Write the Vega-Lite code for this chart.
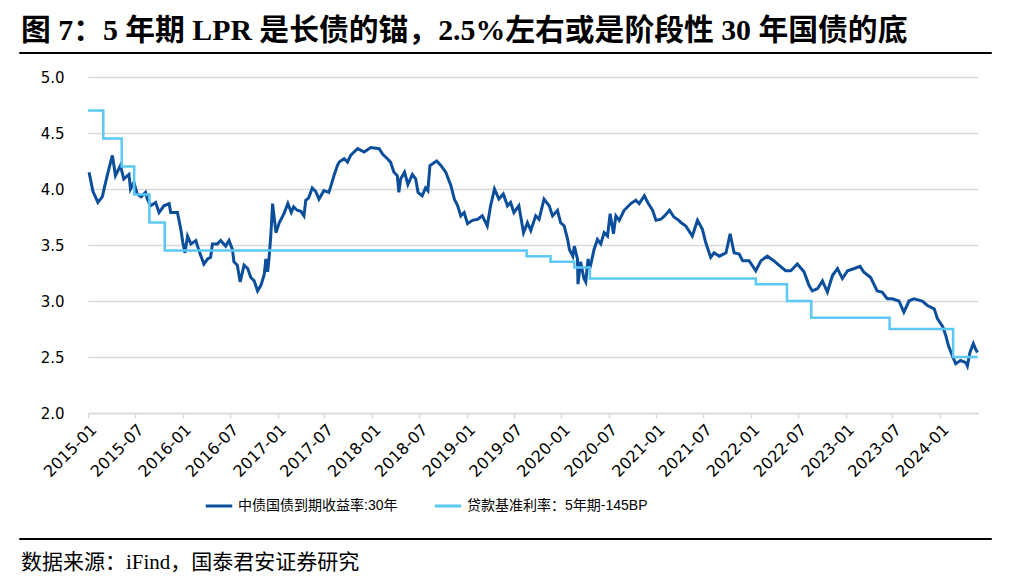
{
  "$schema": "https://vega.github.io/schema/vega-lite/v6.json",
  "background": "white",
  "padding": {"left": 18, "right": 16, "top": 15, "bottom": 4},
  "config": {
    "view": {"stroke": null},
    "font": "Liberation Sans, Noto Sans CJK SC"
  },
  "datasets": {
    "yield": [
      {"d": "2015-01-05", "v": 4.15}, {"d": "2015-01-20", "v": 3.98}, {"d": "2015-02-08", "v": 3.88}, {"d": "2015-02-25", "v": 3.93},
      {"d": "2015-03-16", "v": 4.12}, {"d": "2015-04-05", "v": 4.30}, {"d": "2015-04-17", "v": 4.12}, {"d": "2015-05-06", "v": 4.21},
      {"d": "2015-05-19", "v": 4.09}, {"d": "2015-06-08", "v": 4.13}, {"d": "2015-06-14", "v": 4.00}, {"d": "2015-06-27", "v": 4.06},
      {"d": "2015-07-10", "v": 3.955}, {"d": "2015-07-25", "v": 3.93}, {"d": "2015-08-11", "v": 3.97}, {"d": "2015-08-18", "v": 3.91},
      {"d": "2015-08-30", "v": 3.85}, {"d": "2015-09-19", "v": 3.88}, {"d": "2015-10-02", "v": 3.79}, {"d": "2015-10-21", "v": 3.85},
      {"d": "2015-11-10", "v": 3.87}, {"d": "2015-11-16", "v": 3.79}, {"d": "2015-12-12", "v": 3.79}, {"d": "2015-12-25", "v": 3.64},
      {"d": "2016-01-02", "v": 3.52}, {"d": "2016-01-10", "v": 3.43}, {"d": "2016-01-20", "v": 3.58}, {"d": "2016-02-02", "v": 3.51},
      {"d": "2016-02-21", "v": 3.54}, {"d": "2016-03-04", "v": 3.45}, {"d": "2016-03-23", "v": 3.33}, {"d": "2016-04-06", "v": 3.375},
      {"d": "2016-04-18", "v": 3.39}, {"d": "2016-04-25", "v": 3.51}, {"d": "2016-05-14", "v": 3.51}, {"d": "2016-05-27", "v": 3.54},
      {"d": "2016-06-15", "v": 3.49}, {"d": "2016-06-28", "v": 3.54}, {"d": "2016-07-11", "v": 3.46}, {"d": "2016-07-17", "v": 3.35},
      {"d": "2016-07-30", "v": 3.32}, {"d": "2016-08-10", "v": 3.17}, {"d": "2016-08-25", "v": 3.32}, {"d": "2016-09-08", "v": 3.29},
      {"d": "2016-09-20", "v": 3.21}, {"d": "2016-10-03", "v": 3.18}, {"d": "2016-10-16", "v": 3.09}, {"d": "2016-10-29", "v": 3.14},
      {"d": "2016-11-11", "v": 3.24}, {"d": "2016-11-17", "v": 3.375}, {"d": "2016-11-24", "v": 3.26}, {"d": "2016-11-30", "v": 3.40},
      {"d": "2016-12-06", "v": 3.58}, {"d": "2016-12-13", "v": 3.87}, {"d": "2016-12-26", "v": 3.61}, {"d": "2017-01-08", "v": 3.70},
      {"d": "2017-01-26", "v": 3.78}, {"d": "2017-02-10", "v": 3.87}, {"d": "2017-02-23", "v": 3.79}, {"d": "2017-03-04", "v": 3.84},
      {"d": "2017-03-18", "v": 3.81}, {"d": "2017-04-01", "v": 3.80}, {"d": "2017-04-13", "v": 3.76}, {"d": "2017-04-20", "v": 3.90},
      {"d": "2017-05-01", "v": 3.92}, {"d": "2017-05-15", "v": 4.01}, {"d": "2017-05-28", "v": 3.98}, {"d": "2017-06-10", "v": 3.91},
      {"d": "2017-06-29", "v": 3.985}, {"d": "2017-07-18", "v": 3.97}, {"d": "2017-07-29", "v": 4.05}, {"d": "2017-08-07", "v": 4.12},
      {"d": "2017-08-20", "v": 4.21}, {"d": "2017-08-27", "v": 4.24}, {"d": "2017-09-15", "v": 4.27}, {"d": "2017-09-28", "v": 4.24},
      {"d": "2017-10-10", "v": 4.30}, {"d": "2017-10-23", "v": 4.33}, {"d": "2017-11-06", "v": 4.36}, {"d": "2017-12-01", "v": 4.33},
      {"d": "2017-12-27", "v": 4.37}, {"d": "2018-01-28", "v": 4.36}, {"d": "2018-02-11", "v": 4.31}, {"d": "2018-03-01", "v": 4.27},
      {"d": "2018-03-13", "v": 4.24}, {"d": "2018-03-26", "v": 4.15}, {"d": "2018-04-08", "v": 4.12}, {"d": "2018-04-14", "v": 3.97},
      {"d": "2018-04-21", "v": 4.09}, {"d": "2018-05-06", "v": 4.15}, {"d": "2018-05-19", "v": 4.04}, {"d": "2018-06-05", "v": 4.13},
      {"d": "2018-06-18", "v": 4.09}, {"d": "2018-06-27", "v": 3.97}, {"d": "2018-07-13", "v": 3.94}, {"d": "2018-07-26", "v": 4.01},
      {"d": "2018-08-04", "v": 3.985}, {"d": "2018-08-12", "v": 4.21}, {"d": "2018-09-07", "v": 4.25}, {"d": "2018-09-23", "v": 4.21},
      {"d": "2018-10-12", "v": 4.15}, {"d": "2018-11-01", "v": 4.03}, {"d": "2018-11-14", "v": 3.91}, {"d": "2018-11-27", "v": 3.85},
      {"d": "2018-12-09", "v": 3.76}, {"d": "2018-12-22", "v": 3.79}, {"d": "2019-01-04", "v": 3.69}, {"d": "2019-01-23", "v": 3.72},
      {"d": "2019-02-12", "v": 3.73}, {"d": "2019-03-02", "v": 3.76}, {"d": "2019-03-21", "v": 3.67}, {"d": "2019-04-03", "v": 3.85},
      {"d": "2019-04-18", "v": 4.00}, {"d": "2019-05-05", "v": 3.91}, {"d": "2019-05-22", "v": 3.955}, {"d": "2019-06-07", "v": 3.85},
      {"d": "2019-06-19", "v": 3.88}, {"d": "2019-07-02", "v": 3.79}, {"d": "2019-07-21", "v": 3.85}, {"d": "2019-08-08", "v": 3.61},
      {"d": "2019-08-23", "v": 3.70}, {"d": "2019-09-05", "v": 3.63}, {"d": "2019-09-24", "v": 3.76}, {"d": "2019-10-07", "v": 3.73},
      {"d": "2019-10-26", "v": 3.91}, {"d": "2019-11-15", "v": 3.85}, {"d": "2019-11-28", "v": 3.76}, {"d": "2019-12-17", "v": 3.81},
      {"d": "2019-12-29", "v": 3.70}, {"d": "2020-01-12", "v": 3.67}, {"d": "2020-01-25", "v": 3.55}, {"d": "2020-02-01", "v": 3.46},
      {"d": "2020-02-14", "v": 3.40}, {"d": "2020-02-20", "v": 3.49}, {"d": "2020-03-03", "v": 3.375}, {"d": "2020-03-05", "v": 3.15},
      {"d": "2020-03-15", "v": 3.35}, {"d": "2020-03-28", "v": 3.20}, {"d": "2020-04-04", "v": 3.17}, {"d": "2020-04-13", "v": 3.375},
      {"d": "2020-04-20", "v": 3.29}, {"d": "2020-05-06", "v": 3.46}, {"d": "2020-05-19", "v": 3.55}, {"d": "2020-06-01", "v": 3.51},
      {"d": "2020-06-14", "v": 3.61}, {"d": "2020-06-27", "v": 3.58}, {"d": "2020-07-07", "v": 3.78}, {"d": "2020-07-20", "v": 3.60},
      {"d": "2020-07-29", "v": 3.76}, {"d": "2020-08-11", "v": 3.72}, {"d": "2020-08-30", "v": 3.81}, {"d": "2020-09-25", "v": 3.87},
      {"d": "2020-10-14", "v": 3.90}, {"d": "2020-10-27", "v": 3.87}, {"d": "2020-11-16", "v": 3.94}, {"d": "2020-11-29", "v": 3.88},
      {"d": "2020-12-18", "v": 3.81}, {"d": "2020-12-31", "v": 3.72}, {"d": "2021-01-19", "v": 3.73}, {"d": "2021-02-02", "v": 3.76},
      {"d": "2021-02-21", "v": 3.81}, {"d": "2021-03-10", "v": 3.75}, {"d": "2021-03-29", "v": 3.72}, {"d": "2021-04-06", "v": 3.70},
      {"d": "2021-04-25", "v": 3.67}, {"d": "2021-05-20", "v": 3.58}, {"d": "2021-06-09", "v": 3.72}, {"d": "2021-06-28", "v": 3.64},
      {"d": "2021-07-11", "v": 3.52}, {"d": "2021-07-30", "v": 3.39}, {"d": "2021-08-12", "v": 3.43}, {"d": "2021-09-01", "v": 3.40},
      {"d": "2021-09-27", "v": 3.43}, {"d": "2021-10-13", "v": 3.60}, {"d": "2021-10-28", "v": 3.43}, {"d": "2021-11-17", "v": 3.42},
      {"d": "2021-11-30", "v": 3.36}, {"d": "2021-12-25", "v": 3.36}, {"d": "2022-01-20", "v": 3.27}, {"d": "2022-02-09", "v": 3.36},
      {"d": "2022-03-05", "v": 3.40}, {"d": "2022-03-30", "v": 3.36}, {"d": "2022-04-19", "v": 3.32}, {"d": "2022-05-15", "v": 3.27},
      {"d": "2022-06-04", "v": 3.27}, {"d": "2022-06-29", "v": 3.33}, {"d": "2022-07-25", "v": 3.26}, {"d": "2022-08-13", "v": 3.14},
      {"d": "2022-08-26", "v": 3.09}, {"d": "2022-09-15", "v": 3.11}, {"d": "2022-10-04", "v": 3.18}, {"d": "2022-10-23", "v": 3.08},
      {"d": "2022-11-12", "v": 3.23}, {"d": "2022-12-01", "v": 3.29}, {"d": "2022-12-20", "v": 3.20}, {"d": "2023-01-09", "v": 3.27},
      {"d": "2023-02-04", "v": 3.29}, {"d": "2023-02-26", "v": 3.31}, {"d": "2023-03-12", "v": 3.26}, {"d": "2023-04-08", "v": 3.21},
      {"d": "2023-05-03", "v": 3.09}, {"d": "2023-05-22", "v": 3.08}, {"d": "2023-06-11", "v": 3.02}, {"d": "2023-06-30", "v": 3.02},
      {"d": "2023-07-26", "v": 3.00}, {"d": "2023-08-14", "v": 2.90}, {"d": "2023-09-03", "v": 3.00}, {"d": "2023-09-22", "v": 3.02},
      {"d": "2023-10-24", "v": 3.00}, {"d": "2023-11-13", "v": 2.96}, {"d": "2023-12-09", "v": 2.93}, {"d": "2023-12-22", "v": 2.84},
      {"d": "2024-01-11", "v": 2.77}, {"d": "2024-01-23", "v": 2.69}, {"d": "2024-02-02", "v": 2.60}, {"d": "2024-02-19", "v": 2.50},
      {"d": "2024-03-01", "v": 2.44}, {"d": "2024-03-20", "v": 2.47}, {"d": "2024-04-09", "v": 2.45}, {"d": "2024-04-15", "v": 2.42},
      {"d": "2024-04-25", "v": 2.54}, {"d": "2024-05-08", "v": 2.62}, {"d": "2024-05-17", "v": 2.57}, {"d": "2024-05-24", "v": 2.54}
    ],
    "lpr": [
      {"d": "2015-01-01", "v": 4.70}, {"d": "2015-03-01", "v": 4.45}, {"d": "2015-05-11", "v": 4.20}, {"d": "2015-06-28", "v": 3.95},
      {"d": "2015-08-26", "v": 3.70}, {"d": "2015-10-24", "v": 3.45}, {"d": "2019-08-20", "v": 3.40}, {"d": "2019-11-20", "v": 3.35},
      {"d": "2020-02-20", "v": 3.30}, {"d": "2020-04-20", "v": 3.20}, {"d": "2022-01-20", "v": 3.15}, {"d": "2022-05-20", "v": 3.00},
      {"d": "2022-08-22", "v": 2.85}, {"d": "2023-06-20", "v": 2.75}, {"d": "2024-02-20", "v": 2.50}, {"d": "2024-05-24", "v": 2.50}
    ]
  },
  "spacing": 12,
  "resolve": {"scale": {"color": "independent"}, "legend": {"color": "independent"}},
  "vconcat": [
    {
      "width": 972,
      "height": 1,
      "view": {"stroke": "#000000", "strokeWidth": 1},
      "title": {
        "text": "图 7：5 年期 LPR 是长债的锚，2.5%左右或是阶段性 30 年国债的底",
        "anchor": "start",
        "frame": "group",
        "font": "Liberation Serif, Noto Sans CJK SC",
        "fontSize": 29.8,
        "fontWeight": "bold",
        "color": "#000000",
        "offset": 1,
        "dx": 2
      },
      "data": {"values": [{}]},
      "mark": {"type": "text", "text": ""}
    },
    {
      "spacing": 19,
      "resolve": {"scale": {"color": "independent"}, "legend": {"color": "independent"}},
      "vconcat": [
        {
          "spacing": 0,
          "resolve": {"scale": {"color": "independent"}, "legend": {"color": "independent"}},
          "hconcat": [
            {
              "width": 9,
              "height": 336,
              "data": {"values": [{}]},
              "mark": {"type": "text", "text": ""}
            },
            {
              "width": 890,
              "height": 336,
              "encoding": {
                "x": {
                  "field": "d",
                  "type": "temporal",
                  "title": null,
                  "scale": {"domain": [{"year": 2015, "month": 1, "date": 1}, {"year": 2024, "month": 5, "date": 26}], "nice": false},
                  "axis": {
                    "format": "%Y-%m",
                    "tickCount": {"interval": "month", "step": 6},
                    "labelAngle": -45,
                    "labelFontSize": 16,
                    "labelColor": "#000000",
                    "labelFont": "DejaVu Sans",
                    "grid": false,
                    "domainColor": "#D9D9D9",
                    "domainWidth": 1.5,
                    "tickColor": "#D9D9D9",
                    "tickSize": 5,
                    "tickWidth": 1.5,
                    "labelPadding": 3,
                    "labelOverlap": false,
                    "labelFlush": false
                  }
                },
                "y": {
                  "field": "v",
                  "type": "quantitative",
                  "title": null,
                  "scale": {"domain": [2, 5], "nice": false, "zero": false},
                  "axis": {
                    "values": [2, 2.5, 3, 3.5, 4, 4.5, 5],
                    "format": ".1f",
                    "labelFontSize": 15,
                    "labelFont": "DejaVu Sans",
                    "labelColor": "#000000",
                    "domain": false,
                    "ticks": false,
                    "labelPadding": 24,
                    "gridColor": "#D9D9D9",
                    "gridWidth": 1.5,
                    "minExtent": 60
                  }
                }
              },
              "layer": [
                {
                  "data": {"name": "yield"},
                  "mark": {"type": "line", "strokeWidth": 3, "interpolate": "linear"},
                  "encoding": {
                    "color": {
                      "datum": "中债国债到期收益率:30年",
                      "scale": {"domain": ["中债国债到期收益率:30年", "贷款基准利率：5年期-145BP"], "range": ["#0B4F9C", "#5BC8F5"]},
                      "legend": {
                        "orient": "none",
                        "legendX": 116,
                        "legendY": 414,
                        "direction": "horizontal",
                        "title": null,
                        "padding": 0,
                        "symbolType": "stroke",
                        "symbolStrokeWidth": 3,
                        "symbolSize": 700,
                        "labelFontSize": 14,
                        "labelFont": "Liberation Sans, Noto Sans CJK SC",
                        "labelColor": "#000000",
                        "columnPadding": 30,
                        "labelLimit": 400
                      }
                    }
                  }
                },
                {
                  "data": {"name": "lpr"},
                  "mark": {"type": "line", "strokeWidth": 2.5, "interpolate": "step-after"},
                  "encoding": {
                    "color": {"datum": "贷款基准利率：5年期-145BP"}
                  }
                }
              ]
            }
          ]
        },
        {
          "width": 972,
          "height": 1,
          "view": {"stroke": "#000000", "strokeWidth": 1},
          "title": {
            "text": "数据来源：iFind，国泰君安证券研究",
            "orient": "bottom",
            "anchor": "start",
            "frame": "group",
            "font": "Liberation Serif, Noto Sans CJK SC",
            "fontSize": 21,
            "fontWeight": "normal",
            "color": "#000000",
            "offset": 8,
            "dx": 2
          },
          "data": {"values": [{}]},
          "mark": {"type": "text", "text": ""}
        }
      ]
    }
  ]
}
